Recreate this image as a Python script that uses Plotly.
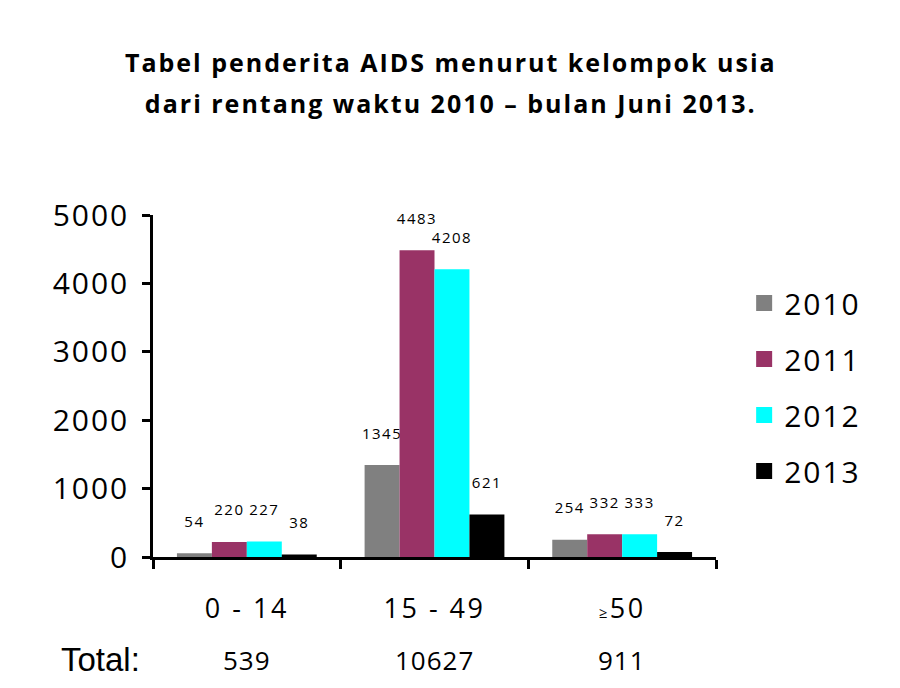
import plotly.graph_objects as go

# data
age_groups = ['0 - 14', '15 - 49', '≥50']
age_labels = ['0 - 14', '15 - 49', "<span style='font-size:15px'>≥</span>50"]
years = ['2010', '2011', '2012', '2013']
counts_2010 = [54, 1345, 254]
counts_2011 = [220, 4483, 332]
counts_2012 = [227, 4208, 333]
counts_2013 = [38, 621, 72]
totals = ['539', '10627', '911']
y_ticks = [0, 1000, 2000, 3000, 4000, 5000]

series = [counts_2010, counts_2011, counts_2012, counts_2013]
colors = ['#808080', '#993366', '#00FFFF', '#000000']

font_main = 'Open Sans, Lato, sans-serif'


def spaced(txt, px):
    # the original text is drawn with some letter spacing
    return f"<span style='letter-spacing:{px}px'>{txt}</span>"


fig = go.Figure()

for year, vals, col in zip(years, series, colors):
    fig.add_trace(go.Bar(
        x=age_groups, y=vals, name=year, marker=dict(color=col, line=dict(width=0)),
        text=[spaced(v, 1.5) + '<br> ' for v in vals], textposition='outside', constraintext='none', cliponaxis=False,
        textfont=dict(family=font_main, size=15, color='#000000'), showlegend=False))
    # legend entry with a bigger square
    fig.add_trace(go.Scatter(
        x=[None], y=[None], mode='markers', name=spaced(year, 2), legendgroup=year,
        marker=dict(symbol='square', size=16, color=col)))

for grp, tot in zip(age_groups, totals):
    fig.add_annotation(x=grp, y=-0.30, xref='x', yref='paper', xanchor='center', yanchor='middle',
                       text=spaced(tot, 1), showarrow=False,
                       font=dict(family=font_main, size=26, color='#000000'))

fig.add_annotation(x=-0.094, y=-0.30, xref='paper', yref='paper', xanchor='center', yanchor='middle',
                   text='Total:', showarrow=False,
                   font=dict(family='Liberation Sans, Arial, sans-serif', size=33, color='#000000'))

title_lines = ['Tabel penderita AIDS menurut kelompok usia', 'dari rentang waktu 2010 – bulan Juni 2013.']
title_text = '<br>'.join(f"<span style='font-size:25px;letter-spacing:2px'>{t}</span>" for t in title_lines)

fig.update_layout(
    width=900, height=688,
    margin=dict(l=145, r=192, t=207, b=139),
    paper_bgcolor='white', plot_bgcolor='white',
    title=dict(text=f'<b>{title_text}</b>', x=0.492, xanchor='center', yref='container',
               y=0.9077, yanchor='middle',
               font=dict(family=font_main, size=32, color='#000000')),
    barmode='group', bargap=0.255, bargroupgap=0,
    legend=dict(x=1.05, y=0.819, xanchor='left', yanchor='top', tracegroupgap=14,
                font=dict(family=font_main, size=30, color='#000000'), bgcolor='rgba(0,0,0,0)'),
    xaxis=dict(showline=True, linecolor='#000000', linewidth=2.5, ticks='outside', tickson='boundaries',
               ticklen=9, tickwidth=2.5, tickcolor='#000000', showgrid=False,
               tickvals=age_groups, ticktext=[spaced(t, 2.5) for t in age_labels], ticklabelstandoff=26,
               tickfont=dict(family=font_main, size=27, color='#000000')),
    yaxis=dict(range=[0, 5000], tickvals=y_ticks, ticktext=[spaced(t, 2) for t in y_ticks], showline=True,
               linecolor='#000000', linewidth=2.5, ticks='outside', ticklen=8, tickwidth=2.5,
               tickcolor='#000000', showgrid=False, zeroline=False, ticklabelstandoff=7,
               tickfont=dict(family=font_main, size=30, color='#000000')),
)

fig.write_html('out.html')
